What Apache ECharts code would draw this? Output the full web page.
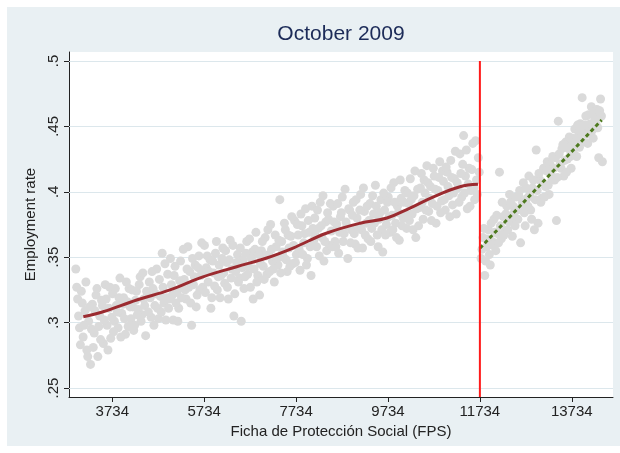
<!DOCTYPE html>
<html>
<head>
<meta charset="utf-8">
<title>October 2009</title>
<script src="https://cdn.jsdelivr.net/npm/echarts@6.0.0/dist/echarts.min.js"></script>
<style>
html, body { margin: 0; padding: 0; background: #fff; }
#main { width: 620px; height: 453px; }
</style>
</head>
<body>
<div id="main"></div>
<script>
// axis ticks
var xTicks = [3734, 5734, 7734, 9734, 11734, 13734];
var yTicks = [0.25, 0.3, 0.35, 0.4, 0.45, 0.5];
var cutoff = 11734;

// binned FPS score vs employment rate, below the cutoff
var leftPoints = [
	[2940,.341],[2980,.318],[3020,.296],[3060,.324],[3100,.289],[3140,.309],[3180,.279],[3220,.301],[3260,.268],[3300,.314],
	[3340,.292],[3380,.321],[3420,.274],[3460,.305],[3500,.317],[3540,.284],[3580,.329],[3620,.298],[3660,.311],[3700,.288],
	[3740,.322],[3780,.301],[3820,.313],[3860,.296],[3900,.334],[3940,.307],[3980,.319],[4020,.291],[4060,.316],[4100,.326],
	[4140,.303],[4180,.312],[4220,.298],[4260,.324],[4300,.310],[4340,.335],[4380,.306],[4420,.318],[4460,.290],[4500,.322],
	[4540,.331],[4580,.304],[4620,.326],[4660,.313],[4700,.341],[4740,.303],[4780,.320],[4820,.353],[4860,.315],[4900,.302],
	[4940,.337],[4980,.318],[5020,.329],[5060,.302],[5100,.343],[5140,.323],[5180,.311],[5220,.347],[5260,.327],[5300,.333],
	[5340,.318],[5380,.358],[5420,.339],[5460,.298],[5500,.329],[5540,.344],[5580,.321],[5620,.351],[5660,.336],[5700,.327],
	[5740,.359],[5780,.342],[5820,.331],[5860,.348],[5900,.319],[5940,.338],[5980,.353],[6020,.325],[6060,.344],[6100,.336],
	[6140,.357],[6180,.330],[6220,.346],[6260,.318],[6300,.363],[6340,.341],[6380,.305],[6420,.339],[6460,.352],[6500,.334],
	[6540,.301],[6580,.348],[6620,.335],[6660,.362],[6700,.343],[6740,.327],[6780,.354],[6820,.341],[6860,.369],[6900,.336],
	[6940,.321],[6980,.355],[7020,.343],[7060,.365],[7100,.337],[7140,.352],[7180,.375],[7220,.347],[7260,.331],[7300,.358],
	[7340,.344],[7380,.394],[7420,.362],[7460,.350],[7500,.371],[7540,.339],[7580,.357],[7620,.366],[7660,.345],[7700,.378],
	[7740,.352],[7780,.367],[7820,.340],[7860,.374],[7900,.361],[7940,.387],[7980,.349],[8020,.369],[8060,.336],[8100,.372],
	[8140,.380],[8180,.358],[8220,.372],[8260,.392],[8300,.365],[8340,.347],[8380,.377],[8420,.384],[8460,.359],[8500,.370],
	[8540,.389],[8580,.362],[8620,.375],[8660,.353],[8700,.381],[8740,.396],[8780,.368],[8820,.377],[8860,.349],[8900,.386],
	[8940,.371],[8980,.392],[9020,.360],[9060,.380],[9100,.373],[9140,.398],[9180,.357],[9220,.385],[9260,.376],[9300,.364],
	[9340,.391],[9380,.372],[9420,.383],[9460,.405],[9500,.367],[9540,.379],[9580,.394],[9620,.354],[9660,.386],[9700,.375],
	[9740,.396],[9780,.369],[9820,.382],[9860,.407],[9900,.376],[9940,.389],[9980,.363],[10020,.395],[10060,.380],[10100,.401],
	[10140,.372],[10180,.391],[10220,.410],[10260,.383],[10300,.397],[10340,.365],[10380,.402],[10420,.388],[10460,.414],[10500,.379],
	[10540,.399],[10580,.420],[10620,.385],[10660,.404],[10700,.391],[10740,.412],[10780,.376],[10820,.401],[10860,.423],[10900,.393],
	[10940,.408],[10980,.386],[11020,.415],[11060,.397],[11100,.424],[11140,.390],[11180,.410],[11220,.383],[11260,.403],[11300,.429],
	[11340,.396],[11380,.443],[11420,.412],[11460,.387],[11500,.418],[11540,.401],[11580,.437],[11620,.394],[11660,.409],[11700,.426],
	[2960,.327],[3000,.305],[3040,.283],[3080,.315],[3120,.298],[3160,.331],[3200,.274],[3240,.312],[3280,.295],[3320,.281],
	[3360,.309],[3400,.326],[3440,.297],[3480,.287],[3520,.313],[3560,.302],[3600,.318],[3640,.279],[3680,.327],[3720,.304],
	[3760,.293],[3800,.326],[3840,.308],[3880,.319],[3920,.289],[3960,.314],[4000,.303],[4040,.331],[4080,.297],[4120,.312],
	[4160,.325],[4200,.294],[4240,.317],[4280,.306],[4320,.329],[4360,.301],[4400,.338],[4440,.313],[4480,.324],[4520,.308],
	[4560,.319],[4600,.339],[4640,.298],[4680,.322],[4720,.311],[4760,.333],[4800,.308],[4840,.327],[4880,.345],[4920,.319],
	[4960,.311],[5000,.349],[5040,.321],[5080,.336],[5120,.315],[5160,.301],[5200,.332],[5240,.319],[5280,.356],[5320,.325],
	[5360,.341],[5400,.327],[5440,.315],[5480,.349],[5520,.335],[5560,.312],[5600,.342],[5640,.325],[5680,.361],[5720,.338],
	[5760,.323],[5800,.351],[5840,.339],[5880,.311],[5920,.347],[5960,.328],[6000,.362],[6040,.335],[6080,.319],[6120,.349],
	[6160,.338],[6200,.355],[6240,.327],[6280,.348],[6320,.334],[6360,.359],[6400,.322],[6440,.346],[6480,.331],[6520,.357],
	[6560,.342],[6600,.326],[6640,.353],[6680,.337],[6720,.364],[6760,.349],[6800,.318],[6840,.356],[6880,.331],[6920,.352],
	[6960,.345],[7000,.362],[7040,.333],[7080,.351],[7120,.371],[7160,.339],[7200,.356],[7240,.341],[7280,.367],[7320,.349],
	[7360,.363],[7400,.338],[7440,.354],[7480,.376],[7520,.348],[7560,.367],[7600,.343],[7640,.381],[7680,.359],[7720,.346],
	[7760,.375],[7800,.356],[7840,.383],[7880,.352],[7920,.368],[7960,.344],[8000,.378],[8040,.358],[8080,.389],[8120,.363],
	[8160,.366],[8200,.386],[8240,.351],[8280,.374],[8320,.397],[8360,.362],[8400,.355],[8440,.379],[8480,.391],[8520,.358],
	[8560,.377],[8600,.358],[8640,.391],[8680,.369],[8720,.384],[8760,.362],[8800,.402],[8840,.374],[8880,.387],[8920,.361],
	[8960,.382],[9000,.368],[9040,.394],[9080,.357],[9120,.386],[9160,.371],[9200,.403],[9240,.367],[9280,.389],[9320,.378],
	[9360,.362],[9400,.397],[9440,.376],[9480,.389],[9520,.358],[9560,.384],[9600,.371],[9640,.399],[9680,.367],[9720,.392],
	[9760,.381],[9800,.403],[9840,.371],[9880,.392],[9920,.365],[9960,.384],[10000,.409],[10040,.374],[10080,.392],[10120,.383],
	[10160,.399],[10200,.378],[10240,.394],[10280,.371],[10320,.416],[10360,.387],[10400,.374],[10440,.403],[10480,.392],[10520,.409],
	[10560,.386],[10600,.407],[10640,.395],[10680,.378],[10720,.418],[10760,.402],[10800,.389],[10840,.411],[10880,.384],[10920,.416],
	[10960,.394],[11000,.419],[11040,.404],[11080,.381],[11120,.411],[11160,.399],[11200,.431],[11240,.407],[11280,.392],[11320,.414],
	[11360,.421],[11400,.399],[11440,.432],[11480,.406],[11520,.389],[11560,.417],[11600,.403],[11640,.439],[11680,.398],[11720,.415]
];

// above the cutoff
var rightPoints = [
	[11760,.349],[11800,.365],[11840,.336],[11880,.358],[11920,.371],[11960,.344],[12000,.362],[12040,.379],[12080,.355],[12120,.368],
	[12160,.415],[12200,.364],[12240,.381],[12280,.370],[12320,.389],[12360,.377],[12400,.392],[12440,.366],[12480,.384],[12520,.396],
	[12560,.379],[12600,.401],[12640,.388],[12680,.407],[12720,.374],[12760,.395],[12800,.412],[12840,.386],[12880,.403],[12920,.371],
	[12960,.432],[13000,.376],[13040,.409],[13080,.395],[13120,.418],[13160,.404],[13200,.423],[13240,.398],[13280,.413],[13320,.427],
	[13360,.409],[13400,.378],[13440,.454],[13480,.421],[13520,.433],[13560,.412],[13600,.438],[13640,.425],[13680,.442],[13720,.418],
	[13760,.436],[13800,.448],[13840,.427],[13880,.443],[13920,.452],[13960,.472],[14000,.446],[14040,.458],[14080,.437],[14120,.449],
	[14160,.465],[14200,.441],[14240,.456],[14280,.463],[14320,.426],[14360,.471],[14400,.423],
	[11780,.356],[11820,.372],[11860,.347],[11900,.364],[11940,.352],[11980,.376],[12020,.359],[12060,.369],[12100,.382],[12140,.361],
	[12180,.374],[12220,.392],[12260,.367],[12300,.383],[12340,.371],[12380,.398],[12420,.379],[12460,.389],[12500,.374],[12540,.386],
	[12580,.397],[12620,.361],[12660,.392],[12700,.384],[12740,.403],[12780,.389],[12820,.398],[12860,.379],[12900,.409],[12940,.394],
	[12980,.401],[13020,.414],[13060,.392],[13100,.407],[13140,.396],[13180,.416],[13220,.405],[13260,.421],[13300,.409],[13340,.418],
	[13380,.426],[13420,.411],[13460,.429],[13500,.418],[13540,.436],[13580,.424],[13620,.415],[13660,.433],[13700,.427],[13740,.441],
	[13780,.429],[13820,.439],[13860,.451],[13900,.434],[13940,.446],[13980,.438],[14020,.451],[14060,.444],[14100,.459],[14140,.452],
	[14180,.447],[14220,.461],[14260,.452],[14300,.449],[14340,.462],[14380,.458]
];

// local polynomial fit (left) and linear fit (right)
var leftFit = [
	[3103,.3045],[3532,.3083],[4265,.3173],[4990,.325],[5708,.335],[6441,.3427],[7094,.3494],[7667,.357],
	[8406,.3685],[9125,.376],[9712,.380],[10213,.3876],[10713,.396],[11301,.4039],[11692,.4057]
];
var rightFit = [[11734,.3568],[14385,.4549]];

var xMin = 2792, xMax = 14631;
var yMin = 0.2431, yMax = 0.5069;

var font = 'Liberation Sans';
var myChart = echarts.init(document.getElementById('main'));

var option = {
	backgroundColor: '#fff',
	animation: false,
	graphic: [{
		type: 'rect',
		z: -100,
		shape: { x: 7, y: 7, width: 613, height: 439 },
		style: { fill: '#e9f0f3' }
	}],
	title: {
		text: 'October 2009',
		left: 341,
		top: 24,
		textAlign: 'center',
		padding: 0,
		textStyle: { color: '#1c2b58', fontSize: 21, fontWeight: 'normal', fontFamily: font }
	},
	grid: {
		left: 69, right: 7, top: 52, bottom: 56,
		show: true,
		backgroundColor: '#fff',
		borderWidth: 0
	},
	xAxis: {
		type: 'value',
		min: xMin,
		max: xMax,
		name: 'Ficha de Protección Social (FPS)',
		nameLocation: 'middle',
		nameGap: 26,
		nameTextStyle: { color: '#222', fontSize: 15, fontFamily: font },
		axisLine: { show: true, onZero: false, lineStyle: { color: '#222', width: 1 } },
		axisTick: { show: true, length: 5, customValues: xTicks, lineStyle: { color: '#222' } },
		axisLabel: {
			customValues: xTicks,
			color: '#222',
			fontSize: 15,
			fontFamily: font,
			margin: 7,
			formatter: function(v) { return String(v); }
		},
		splitLine: { show: false }
	},
	yAxis: {
		type: 'value',
		min: yMin,
		max: yMax,
		name: 'Employment rate',
		nameLocation: 'middle',
		nameGap: 28,
		nameTextStyle: { color: '#222', fontSize: 15, fontFamily: font },
		axisLine: { show: true, onZero: false, lineStyle: { color: '#222', width: 1 } },
		axisTick: { show: true, length: 5, customValues: yTicks, lineStyle: { color: '#222' } },
		axisLabel: {
			customValues: yTicks,
			rotate: 90,
			color: '#222',
			fontSize: 15,
			fontFamily: font,
			margin: 8,
			formatter: function(v) {
				return String(+v.toFixed(2)).replace(/^0/, '');
			}
		},
		splitLine: { show: false }
	},
	series: [{
		name: 'bins',
		type: 'scatter',
		z: 2,
		symbolSize: 9,
		itemStyle: { color: '#dadada', opacity: 1 },
		data: leftPoints.concat(rightPoints),
		// horizontal grid lines, behind the points
		markLine: {
			silent: true,
			symbol: ['none', 'none'],
			label: { show: false },
			z: 1,
			lineStyle: { color: '#dce7ec', width: 1, type: 'solid' },
			data: yTicks.map(function(v) { return { yAxis: v }; })
		}
	}, {
		name: 'fit below',
		type: 'line',
		z: 3,
		smooth: 0.4,
		showSymbol: false,
		lineStyle: { color: '#9b2b30', width: 3 },
		data: leftFit
	}, {
		name: 'fit above',
		type: 'line',
		z: 3,
		showSymbol: false,
		lineStyle: { color: '#4e7a1f', width: 3, type: [4, 3] },
		data: rightFit
	}, {
		name: 'cutoff',
		type: 'line',
		z: 4,
		showSymbol: false,
		lineStyle: { color: '#ff1a1a', width: 2 },
		data: [[cutoff, yMin], [cutoff, 0.5]]
	}]
};

myChart.setOption(option);
</script>
</body>
</html>
